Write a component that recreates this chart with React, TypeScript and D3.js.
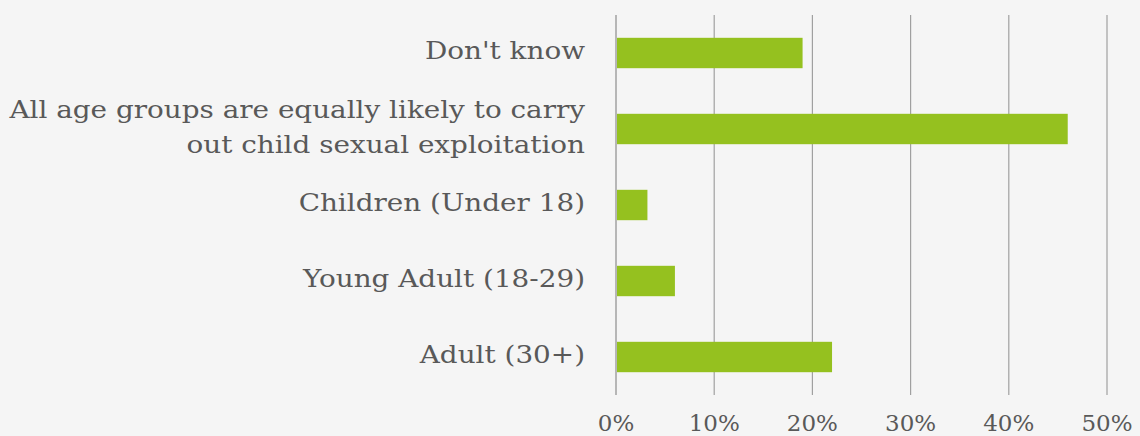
import React from "react";
import * as d3 from "d3";

const categories: string[][] = [
  ["Don't know"],
  ["All age groups are equally likely to carry", "out child sexual exploitation"],
  ["Children (Under 18)"],
  ["Young Adult (18-29)"],
  ["Adult (30+)"],
];
const values: number[] = [19, 46, 3.2, 6, 22];
const ticks: number[] = [0, 10, 20, 30, 40, 50];

const W = 1140;
const H = 436;
const FONT = "'DejaVu Serif', serif";

export default function App() {
  const x = d3.scaleLinear().domain([0, 50]).range([616, 1107]);
  const y = d3
    .scaleBand<number>()
    .domain(d3.range(categories.length))
    .range([15, 395])
    .paddingInner(0.6)
    .paddingOuter(0.3);

  return (
    <svg
      width={W}
      height={H}
      style={{ position: "absolute", left: 0, top: 0, background: "#f5f5f5" }}
    >
      <rect x={0} y={0} width={W} height={H} fill="#f5f5f5" />
      {ticks.map((t) => (
        <line
          key={t}
          x1={x(t)}
          x2={x(t)}
          y1={15}
          y2={395}
          stroke={t === 0 ? "#8c8c8c" : "#a0a0a0"}
          strokeWidth={1.2}
        />
      ))}
      {values.map((v, i) => (
        <rect
          key={i}
          x={x(0) + 1}
          y={y(i)!}
          width={x(v) - x(0) - 1}
          height={y.bandwidth()}
          fill="#95c11f"
        />
      ))}
      {categories.map((lines, i) => {
        const cy = y(i)! + y.bandwidth() / 2;
        const lh = 35;
        const start = cy + 6.5 - ((lines.length - 1) * lh) / 2;
        return (
          <g key={i} transform="translate(585,0) scale(1.16,1)">
            <text
              textAnchor="end"
              fontFamily={FONT}
              fontSize={24}
              fill="#595959"
            >
              {lines.map((l, j) => (
                <tspan key={j} x={0} y={start + j * lh}>
                  {l}
                </tspan>
              ))}
            </text>
          </g>
        );
      })}
      {ticks.map((t) => (
        <text
          key={t}
          x={x(t)}
          y={431}
          textAnchor="middle"
          fontFamily={FONT}
          fontSize={23}
          fill="#595959"
        >
          {t + "%"}
        </text>
      ))}
    </svg>
  );
}
